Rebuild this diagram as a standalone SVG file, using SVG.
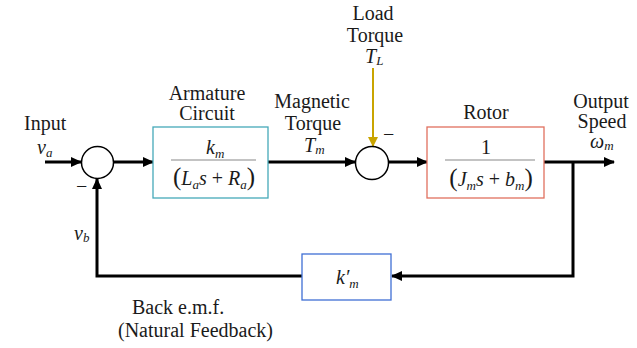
<svg xmlns="http://www.w3.org/2000/svg" width="637" height="348" viewBox="0 0 637 348">
  <defs>
    <style>
      text { font-family: "Liberation Serif", "Times New Roman", serif; font-size: 20px; fill: #1a1a1a; }
      .it { font-style: italic; }
      .sub { font-style: italic; font-size: 13px; }
      .mid { text-anchor: middle; }
      .wire { fill: none; stroke: #000; stroke-width: 3; }
      .sum { fill: #fff; stroke: #000; stroke-width: 1.5; }
      .frac { stroke: #888; stroke-width: 1.2; }
    </style>
    <marker id="arr" markerUnits="userSpaceOnUse" markerWidth="11" markerHeight="10" refX="10" refY="5" orient="auto">
      <path d="M0,0 L11,5 L0,10 z" fill="#000"/>
    </marker>
    <marker id="arrY" markerUnits="userSpaceOnUse" markerWidth="10" markerHeight="10" refX="9" refY="5" orient="auto">
      <path d="M0,0 L10,5 L0,10 z" fill="#c9a400"/>
    </marker>
  </defs>
  <rect width="637" height="348" fill="#fff"/>

  <!-- connectors -->
  <g id="connectors">
    <line class="wire" x1="45" y1="162" x2="81" y2="162" marker-end="url(#arr)"/>
    <line class="wire" x1="114" y1="162" x2="153" y2="162" marker-end="url(#arr)"/>
    <line class="wire" x1="268" y1="162" x2="355" y2="162" marker-end="url(#arr)"/>
    <line class="wire" x1="389" y1="162" x2="427" y2="162" marker-end="url(#arr)"/>
    <line class="wire" x1="544" y1="162" x2="614" y2="162" marker-end="url(#arr)"/>
    <polyline class="wire" points="573,162 573,276 392,276" marker-end="url(#arr)"/>
    <polyline class="wire" points="302,276 97,276 97,179" marker-end="url(#arr)"/>
    <line x1="373" y1="68" x2="373" y2="146" stroke="#c9a400" stroke-width="2" marker-end="url(#arrY)"/>
  </g>

  <!-- summing junction 1 -->
  <g id="sum1">
    <circle class="sum" cx="97.5" cy="162.5" r="16"/>
    <text x="76" y="193">−</text>
  </g>

  <!-- summing junction 2 -->
  <g id="sum2">
    <circle class="sum" cx="372" cy="163" r="16.5"/>
    <text x="383" y="141">−</text>
  </g>

  <!-- armature circuit block -->
  <g id="armature">
    <rect x="153" y="127" width="115" height="71" fill="#fff" stroke="#45a9b9" stroke-width="1.3"/>
    <line class="frac" x1="171" y1="160" x2="256" y2="160"/>
    <text x="206" y="154" class="it">k<tspan class="sub" dy="4">m</tspan></text>
    <text x="214" y="185" class="mid"><tspan font-size="25">(</tspan><tspan class="it">L</tspan><tspan class="sub" dy="4">a</tspan><tspan class="it" dy="-4">s</tspan> + <tspan class="it">R</tspan><tspan class="sub" dy="4">a</tspan><tspan font-size="25" dy="-4">)</tspan></text>
  </g>

  <!-- rotor block -->
  <g id="rotor">
    <rect x="427" y="127" width="117" height="71" fill="#fff" stroke="#e0705f" stroke-width="1.3"/>
    <line class="frac" x1="445" y1="160" x2="535" y2="160"/>
    <text x="486" y="154" class="mid">1</text>
    <text x="491" y="186" class="mid"><tspan font-size="25">(</tspan><tspan class="it">J</tspan><tspan class="sub" dy="4">m</tspan><tspan class="it" dy="-4">s</tspan> + <tspan class="it">b</tspan><tspan class="sub" dy="4">m</tspan><tspan font-size="25" dy="-4">)</tspan></text>
  </g>

  <!-- back-emf gain block -->
  <g id="feedback">
    <rect x="302" y="254" width="89" height="46" fill="#fff" stroke="#3f6fd4" stroke-width="1.3"/>
    <text x="336" y="284" class="it">k′<tspan class="sub" dy="4">m</tspan></text>
  </g>

  <!-- signal labels -->
  <g id="labels">
    <text x="24" y="130">Input</text>
    <text x="37" y="154" class="it">v<tspan class="sub" dy="3">a</tspan></text>
    <text x="74" y="240" class="it">v<tspan class="sub" dy="2">b</tspan></text>

    <text x="207" y="100" class="mid">Armature</text>
    <text x="207" y="120" class="mid">Circuit</text>

    <text x="312" y="108" class="mid">Magnetic</text>
    <text x="313" y="130" class="mid">Torque</text>
    <text x="304" y="152" class="it">T<tspan class="sub" dy="2">m</tspan></text>

    <text x="373" y="20" class="mid">Load</text>
    <text x="375" y="42" class="mid">Torque</text>
    <text x="365" y="63" class="it">T<tspan class="sub" dy="2">L</tspan></text>

    <text x="486" y="119" class="mid">Rotor</text>

    <text x="601" y="108" class="mid">Output</text>
    <text x="602" y="128" class="mid">Speed</text>
    <text x="590" y="148" class="it">ω<tspan class="sub" dy="2">m</tspan></text>

    <text x="132" y="314">Back e.m.f.</text>
    <text x="118" y="337">(Natural Feedback)</text>
  </g>
</svg>
